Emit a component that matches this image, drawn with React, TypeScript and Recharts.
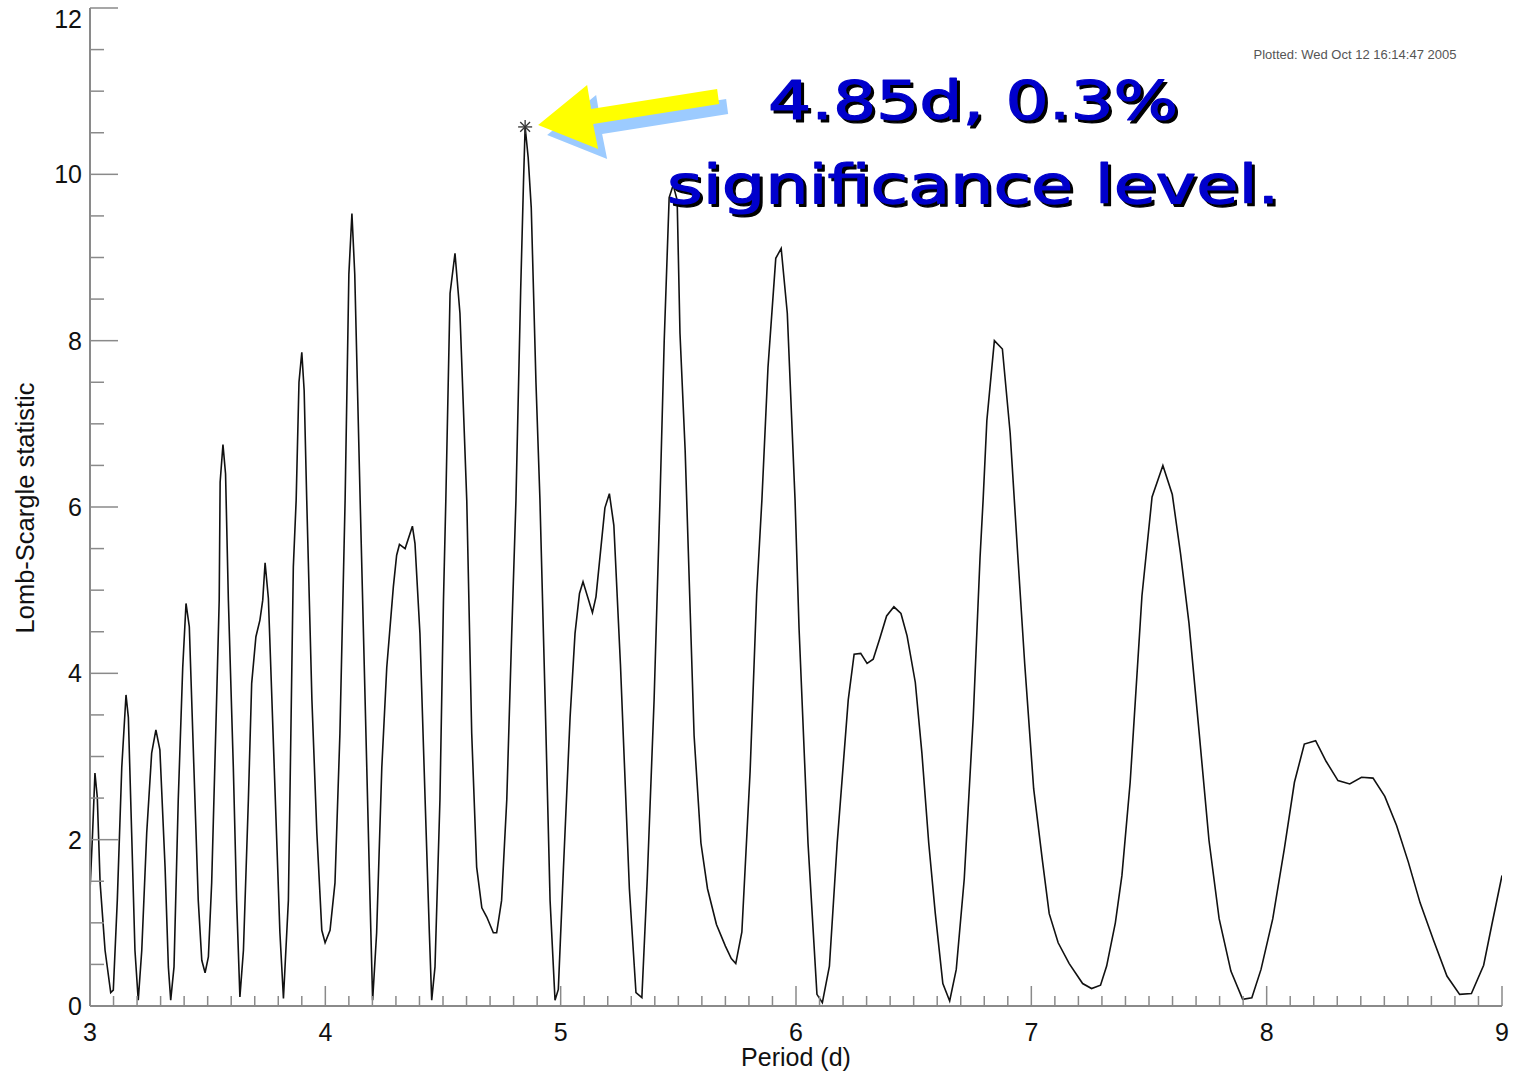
import { LineChart, Line, XAxis, YAxis, ReferenceDot } from "recharts";

// periodogram: period (days) and Lomb-Scargle power
const PERIOD = [
  3.0, 3.011, 3.021, 3.031, 3.043, 3.064, 3.088, 3.099, 3.116, 3.135, 3.153, 3.163, 3.177, 3.191, 3.205,
  3.22, 3.241, 3.262, 3.28, 3.297, 3.319, 3.333, 3.343, 3.357, 3.375, 3.394, 3.408, 3.422, 3.439, 3.46,
  3.475, 3.489, 3.503, 3.517, 3.538, 3.549, 3.553, 3.565, 3.576, 3.588, 3.609, 3.623, 3.637, 3.652, 3.673,
  3.687, 3.705, 3.722, 3.734, 3.744, 3.758, 3.773, 3.795, 3.807, 3.822, 3.843, 3.864, 3.876, 3.888, 3.9,
  3.91, 3.921, 3.943, 3.964, 3.985, 3.999, 4.02, 4.041, 4.062, 4.084, 4.1, 4.113, 4.125, 4.148, 4.169,
  4.19, 4.201, 4.218, 4.24, 4.261, 4.289, 4.303, 4.315, 4.339, 4.37, 4.381, 4.402, 4.424, 4.442, 4.452,
  4.466, 4.487, 4.502, 4.512, 4.53, 4.551, 4.572, 4.601, 4.622, 4.643, 4.665, 4.686, 4.714, 4.728, 4.749,
  4.771, 4.792, 4.81, 4.83, 4.842, 4.849, 4.862, 4.875, 4.895, 4.912, 4.934, 4.955, 4.976, 4.99, 5.012,
  5.04, 5.061, 5.08, 5.095, 5.135, 5.15, 5.188, 5.207, 5.226, 5.254, 5.292, 5.32, 5.345, 5.368, 5.397,
  5.422, 5.44, 5.461, 5.478, 5.495, 5.507, 5.529, 5.567, 5.596, 5.624, 5.662, 5.7, 5.725, 5.744, 5.77,
  5.805, 5.833, 5.855, 5.881, 5.914, 5.937, 5.963, 5.996, 6.013, 6.051, 6.089, 6.112, 6.142, 6.175, 6.222,
  6.247, 6.275, 6.302, 6.328, 6.355, 6.385, 6.416, 6.446, 6.472, 6.507, 6.535, 6.564, 6.592, 6.624, 6.653,
  6.681, 6.715, 6.753, 6.782, 6.795, 6.811, 6.843, 6.877, 6.91, 6.943, 6.972, 7.01, 7.047, 7.076, 7.114,
  7.161, 7.218, 7.256, 7.294, 7.32, 7.357, 7.385, 7.42, 7.47, 7.513, 7.559, 7.599, 7.634, 7.67, 7.713,
  7.755, 7.798, 7.848, 7.898, 7.937, 7.976, 8.026, 8.075, 8.118, 8.16, 8.208, 8.253, 8.303, 8.353, 8.403,
  8.452, 8.502, 8.552, 8.602, 8.652, 8.709, 8.766, 8.82, 8.87, 8.922, 8.957, 9.0,
];

const POWER = [
  1.39, 2.08, 2.8, 2.51, 1.48, 0.67, 0.16, 0.19, 1.27, 2.87, 3.74, 3.47, 2.08, 0.67, 0.07,
  0.67, 2.08, 3.04, 3.32, 3.08, 1.67, 0.47, 0.07, 0.47, 2.48, 4.07, 4.84, 4.56, 3.08, 1.27,
  0.55, 0.4, 0.59, 1.48, 3.68, 4.88, 6.3, 6.75, 6.4, 4.88, 2.87, 1.27, 0.11, 0.67, 2.48,
  3.88, 4.44, 4.64, 4.88, 5.33, 4.9, 3.68, 1.87, 0.88, 0.09, 1.27, 5.28, 6.08, 7.5, 7.86,
  7.4, 6.08, 3.68, 2.08, 0.91, 0.76, 0.91, 1.48, 3.28, 6.08, 8.8, 9.53, 8.8, 6.08, 3.68,
  1.27, 0.07, 0.88, 2.87, 4.07, 5.04, 5.42, 5.55, 5.5, 5.77, 5.56, 4.48, 2.48, 0.88, 0.07,
  0.47, 2.48, 4.88, 6.08, 8.57, 9.05, 8.33, 6.08, 3.28, 1.67, 1.18, 1.07, 0.88, 0.88, 1.27,
  2.48, 4.48, 6.08, 8.6, 9.9, 10.57, 10.2, 9.6, 7.5, 6.08, 3.68, 1.27, 0.07, 0.2, 1.67,
  3.47, 4.48, 4.96, 5.1, 4.73, 4.92, 5.99, 6.16, 5.78, 4.11, 1.41, 0.16, 0.1, 1.53, 3.68,
  6.08, 8.0, 9.72, 9.87, 9.69, 8.09, 6.68, 3.25, 1.96, 1.41, 0.98, 0.72, 0.57, 0.51, 0.89,
  2.82, 4.96, 6.08, 7.68, 8.99, 9.11, 8.33, 6.08, 4.54, 1.96, 0.14, 0.04, 0.48, 1.96, 3.68,
  4.23, 4.24, 4.12, 4.17, 4.41, 4.69, 4.8, 4.72, 4.45, 3.89, 3.04, 1.96, 1.11, 0.27, 0.06,
  0.44, 1.53, 3.46, 5.39, 6.08, 7.04, 8.0, 7.9, 6.89, 5.39, 4.11, 2.61, 1.75, 1.11, 0.76,
  0.51, 0.27, 0.21, 0.25, 0.48, 1.0, 1.57, 2.69, 4.93, 6.12, 6.5, 6.15, 5.44, 4.6, 3.29,
  1.99, 1.05, 0.42, 0.08, 0.1, 0.44, 1.05, 1.89, 2.69, 3.15, 3.19, 2.94, 2.71, 2.67, 2.75,
  2.74, 2.52, 2.17, 1.73, 1.24, 0.79, 0.36, 0.14, 0.15, 0.49, 0.98, 1.57,
];

const X_MAJOR = [3, 4, 5, 6, 7, 8, 9];
const Y_MAJOR = [0, 2, 4, 6, 8, 10, 12];

const PEAK_PERIOD = 4.849;
const PEAK_POWER = 10.57;
const NOTE = ["4.85d, 0.3%", "significance level."];
const STAMP = "Plotted: Wed Oct 12 16:14:47 2005";

const data = PERIOD.map((p, i) => ({ p, v: POWER[i] }));

function subdivide(majors: number[], n: number) {
  const out: number[] = [];
  for (let i = 0; i < majors.length - 1; i++) {
    const a = majors[i];
    const step = (majors[i + 1] - a) / n;
    for (let k = 0; k < n; k++) out.push(Math.round((a + k * step) * 1000) / 1000);
  }
  out.push(majors[majors.length - 1]);
  return out;
}

const X_TICKS = subdivide(X_MAJOR, 10);
const Y_TICKS = subdivide(Y_MAJOR, 4);

const W = 1513;
const H = 1073;
const FRAME = "#8a8a8a";
const FONT = "'Liberation Sans', Arial, Helvetica, sans-serif";
const isMajor = (v: number, list: number[]) => list.some((m) => Math.abs(m - v) < 1e-6);

function XTick(props: any) {
  const { x, y, payload, top } = props;
  const major = isMajor(payload.value, X_MAJOR);
  const len = major ? 20 : 10;
  const d = top ? 1 : -1;
  return (
    <g>
      <line x1={x} x2={x} y1={y} y2={y + d * len} stroke={FRAME} strokeWidth={1.5} />
      {!top && major && (
        <text x={x} y={y + 35} textAnchor="middle" fontSize={25} fontFamily={FONT} fill="#111">
          {payload.value}
        </text>
      )}
    </g>
  );
}

function YTick(props: any) {
  const { x, y, payload, right } = props;
  const major = isMajor(payload.value, Y_MAJOR);
  const len = major ? 28 : 14;
  const d = right ? -1 : 1;
  // top label sits just under the frame instead of running off the page
  const ty = Math.max(y + 9, 28);
  return (
    <g>
      <line x1={x} x2={x + d * len} y1={y} y2={y} stroke={FRAME} strokeWidth={1.5} />
      {!right && major && (
        <text x={x - 8} y={ty} textAnchor="end" fontSize={25} fontFamily={FONT} fill="#111">
          {payload.value}
        </text>
      )}
    </g>
  );
}

// asterisk on the peak, the arrow and the note, placed from the dot's own coordinates
function PeakNote(props: any) {
  const { cx, cy } = props;
  const r = 7;
  const arrow = [
    [13, -2],
    [62, -42],
    [66, -18],
    [192, -38],
    [194, -23],
    [68, -3],
    [73, 22],
  ];
  const pts = (dx: number, dy: number) => arrow.map(([a, b]) => `${cx + a + dx},${cy + b + dy}`).join(" ");
  const tx = cx + 448;
  const noteFont = "'Comic Sans MS', 'DejaVu Sans', sans-serif";
  return (
    <g>
      <polygon points={pts(9, 10)} fill="#9ccbff" />
      <polygon points={pts(0, 0)} fill="#ffff00" />
      <g stroke="#333" strokeWidth={1.3}>
        <line x1={cx - r} x2={cx + r} y1={cy} y2={cy} />
        <line x1={cx} x2={cx} y1={cy - r} y2={cy + r} />
        <line x1={cx - r * 0.7} x2={cx + r * 0.7} y1={cy - r * 0.7} y2={cy + r * 0.7} />
        <line x1={cx - r * 0.7} x2={cx + r * 0.7} y1={cy + r * 0.7} y2={cy - r * 0.7} />
      </g>
      {[
        { dx: 3, dy: 3, fill: "#000" },
        { dx: 0, dy: 0, fill: "#0000cc" },
      ].map((s, i) => (
        <g
          key={i}
          fill={s.fill}
          stroke={s.fill}
          strokeWidth={1.2}
          strokeLinejoin="round"
          fontFamily={noteFont}
          fontWeight={400}
          fontSize={54}
        >
          <text x={tx + s.dx} y={cy - 8 + s.dy} textAnchor="middle" textLength={410} lengthAdjust="spacingAndGlyphs">
            {NOTE[0]}
          </text>
          <text x={tx + s.dx} y={cy + 76 + s.dy} textAnchor="middle" textLength={612} lengthAdjust="spacingAndGlyphs">
            {NOTE[1]}
          </text>
        </g>
      ))}
    </g>
  );
}

export default function App() {
  return (
    <div style={{ position: "fixed", left: 0, top: 0, width: W, height: H, background: "#fff" }}>
      <style>{"html, body { margin: 0; padding: 0; overflow: hidden; }"}</style>
      <LineChart width={W} height={H} data={data} margin={{ top: 8, right: 11, bottom: 0, left: 0 }}>
        <XAxis
          xAxisId="b"
          dataKey="p"
          type="number"
          domain={[3, 9]}
          ticks={X_TICKS}
          interval={0}
          height={67}
          tickSize={0}
          tickMargin={0}
          axisLine={{ stroke: FRAME, strokeWidth: 2 }}
          tick={(p: any) => <XTick {...p} />}
          allowDataOverflow
        />
        <XAxis
          xAxisId="t"
          orientation="top"
          type="number"
          domain={[3, 9]}
          ticks={X_TICKS}
          interval={0}
          height={0}
          tickSize={0}
          tickMargin={0}
          axisLine={{ stroke: FRAME, strokeWidth: 2 }}
          tick={(p: any) => <XTick {...p} top />}
          allowDataOverflow
        />
        <YAxis
          yAxisId="l"
          type="number"
          domain={[0, 12]}
          ticks={Y_TICKS}
          interval={0}
          width={90}
          tickSize={0}
          tickMargin={0}
          axisLine={{ stroke: FRAME, strokeWidth: 2 }}
          tick={(p: any) => <YTick {...p} />}
          allowDataOverflow
        />
        <YAxis
          yAxisId="r"
          orientation="right"
          type="number"
          domain={[0, 12]}
          ticks={Y_TICKS}
          interval={0}
          width={0}
          tickSize={0}
          tickMargin={0}
          axisLine={{ stroke: FRAME, strokeWidth: 2 }}
          tick={(p: any) => <YTick {...p} right />}
          allowDataOverflow
        />
        <Line
          xAxisId="b"
          yAxisId="l"
          dataKey="v"
          type="linear"
          stroke="#111"
          strokeWidth={1.6}
          dot={false}
          isAnimationActive={false}
        />
        <ReferenceDot
          xAxisId="b"
          yAxisId="l"
          x={PEAK_PERIOD}
          y={PEAK_POWER}
          shape={(p: any) => <PeakNote {...p} />}
        />
      </LineChart>
      <svg width={W} height={H} style={{ position: "absolute", left: 0, top: 0, pointerEvents: "none" }}>
        <text x={796} y={1066} textAnchor="middle" fontSize={25} fontFamily={FONT} fill="#111">
          Period (d)
        </text>
        <text
          transform="translate(34,508) rotate(-90)"
          textAnchor="middle"
          fontSize={25.5}
          fontFamily={FONT}
          fill="#111"
        >
          Lomb-Scargle statistic
        </text>
        <text x={1355} y={59} textAnchor="middle" fontSize={13} fontFamily={FONT} fill="#555">
          {STAMP}
        </text>
      </svg>
    </div>
  );
}
